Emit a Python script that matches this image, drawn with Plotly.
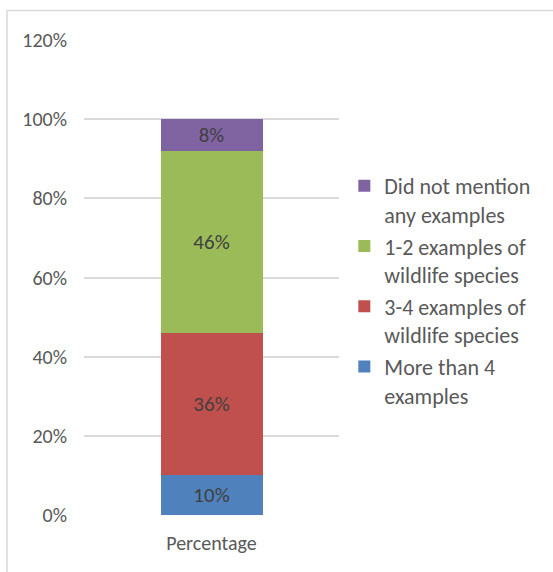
import plotly.graph_objects as go

# Survey responses: share of respondents by number of wildlife examples given
category = ["Percentage"]
series_names = [
    "More than 4<br>examples",
    "3-4 examples of<br>wildlife species",
    "1-2 examples of<br>wildlife species",
    "Did not mention<br>any examples",
]
series_values = [0.10, 0.36, 0.46, 0.08]
series_colors = ["#4F81BD", "#C0504D", "#9BBB59", "#8064A2"]
y_ticks = [0, 0.2, 0.4, 0.6, 0.8, 1.0, 1.2]
y_tick_labels = ["0%", "20%", "40%", "60%", "80%", "100%", "120%"]

FONT = "Calibri, Carlito, Lato, sans-serif"
TEXT_COLOR = "#595959"
W, H = 553, 572
ML, MR, MT, MB = 84, 214, 40, 57
PW, PH = W - ML - MR, H - MT - MB

fig = go.Figure()
for name, val, col in zip(series_names, series_values, series_colors):
    fig.add_trace(go.Bar(
        x=category,
        y=[val],
        name=name,
        marker=dict(color=col, line=dict(width=0)),
        text=[f"{round(val * 100)}%"],
        textposition="inside",
        insidetextanchor="middle",
        textangle=0,
        textfont=dict(family=FONT, size=21, color="#404040"),
        hoverinfo="skip",
    ))

# outer chart frame (top and left edges)
fx = (7 - ML) / PW
fy = 1 + (MT - 10.5) / PH
frame = dict(color="#D9D9D9", width=1.5)
shapes = [
    dict(type="line", xref="paper", yref="paper", x0=fx, x1=2, y0=fy, y1=fy, line=frame),
    dict(type="line", xref="paper", yref="paper", x0=fx, x1=fx, y0=fy, y1=-0.5, line=frame),
]

fig.update_layout(
    width=W,
    height=H,
    margin=dict(l=ML, r=MR, t=MT, b=MB, pad=0),
    barmode="stack",
    bargap=0.6,
    paper_bgcolor="white",
    plot_bgcolor="white",
    font=dict(family=FONT, size=20, color=TEXT_COLOR),
    shapes=shapes,
    legend=dict(
        traceorder="reversed",
        x=(366 - ML) / PW - 0.085,
        xanchor="left",
        y=(PH - 172 + MT + 7) / PH,
        yanchor="top",
        valign="top",
        font=dict(family=FONT, size=22, color=TEXT_COLOR),
        bgcolor="rgba(0,0,0,0)",
        itemwidth=30,
    ),
    xaxis=dict(
        showgrid=False,
        showline=False,
        zeroline=False,
        ticks="",
        ticklabelstandoff=14,
        tickfont=dict(family=FONT, size=20, color=TEXT_COLOR),
    ),
    yaxis=dict(
        range=[0, 1.2],
        tickvals=y_ticks,
        ticktext=y_tick_labels,
        showgrid=True,
        gridcolor="#D9D9D9",
        gridwidth=1.5,
        zeroline=False,
        showline=False,
        ticks="",
        ticklabelstandoff=16,
        tickfont=dict(family=FONT, size=20, color=TEXT_COLOR),
    ),
)

fig.write_html("out.html")
